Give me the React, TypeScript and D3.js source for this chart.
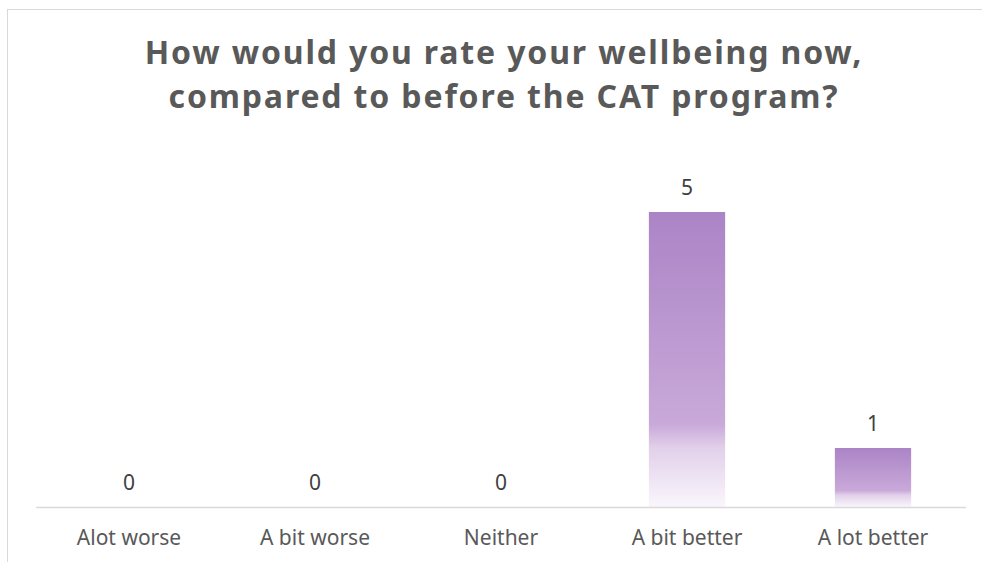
import React from "react";
import * as d3 from "d3";

const categories = ["Alot worse", "A bit worse", "Neither", "A bit better", "A lot better"];
const values = [0, 0, 0, 5, 1];
const titleLines = ["How would you rate your wellbeing now,", "compared to before the CAT program?"];

const W = 982;
const H = 562;
const plot = { left: 36, right: 966, top: 212, bottom: 507 };

export default function App() {
  const x = d3.scaleBand<string>().domain(categories).range([plot.left, plot.right]).paddingInner(0.59).paddingOuter(0.295);
  const y = d3.scaleLinear().domain([0, 5]).range([plot.bottom, plot.top]);
  const font = "'Noto Sans', 'Open Sans', sans-serif";
  return (
    <svg width={W} height={H} style={{ position: "absolute", left: 0, top: 0, background: "#fff" }}>
      <defs>
        <linearGradient id="barGrad" x1="0" y1="0" x2="0" y2="1">
          <stop offset="0" stopColor="#ab84c6" />
          <stop offset="0.72" stopColor="#c9a9d9" />
          <stop offset="0.8" stopColor="#e2d0ea" />
          <stop offset="1" stopColor="#faf6fc" />
        </linearGradient>
      </defs>
      <rect x={7.5} y={9.5} width={980} height={560} fill="#fff" stroke="#d9d9d9" strokeWidth={1} />
      {titleLines.map((t, i) => (
        <text key={i} x={504} y={63.5 + i * 44} textAnchor="middle" fontFamily={font} fontWeight={700} fontSize={32} letterSpacing={1.85} fill="#595959">{t}</text>
      ))}
      {categories.map((c, i) => {
        const v = values[i];
        const bx = x(c)!;
        const by = y(v);
        return (
          <g key={c}>
            {v > 0 && <rect x={bx} y={by} width={x.bandwidth()} height={plot.bottom - by} fill="url(#barGrad)" />}
            <text x={bx + x.bandwidth() / 2} y={by - 17} textAnchor="middle" fontFamily={font} fontSize={21} fill="#404040">{v}</text>
            <text x={bx + x.bandwidth() / 2} y={545} textAnchor="middle" fontFamily={font} fontSize={21} fill="#595959">{c}</text>
          </g>
        );
      })}
      <line x1={plot.left} x2={plot.right} y1={507.5} y2={507.5} stroke="#d9d9d9" strokeWidth={1.5} />
    </svg>
  );
}
